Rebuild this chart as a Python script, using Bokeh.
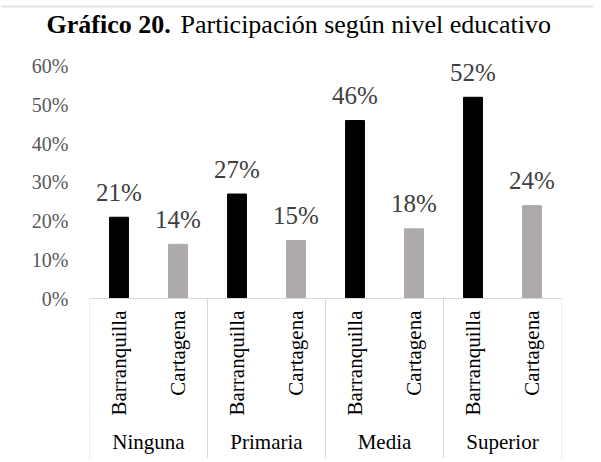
import math
from bokeh.plotting import figure
from bokeh.layouts import column
from bokeh.models import (ColumnDataSource, FactorRange, Range1d, FixedTicker,
                          NumeralTickFormatter, Label, Span)
from bokeh.core.properties import value
from bokeh.embed import file_html
from bokeh.resources import INLINE

# ---- data ----
groups = ["Ninguna", "Primaria", "Media", "Superior"]
cities = ["Barranquilla", "Cartagena"]
barranquilla = [21, 27, 46, 52]
cartagena = [14, 15, 18, 24]
y_ticks = [0, 0.1, 0.2, 0.3, 0.4, 0.5, 0.6]
title_bold = "Gráfico 20."
title_rest = "Participación según nivel educativo"

colors = {"Barranquilla": "#000000", "Cartagena": "#AEAAAA"}
series = {"Barranquilla": barranquilla, "Cartagena": cartagena}

xs, tops, cols, labels = [], [], [], []
for i, g in enumerate(groups):
    for c in cities:
        v = series[c][i]
        xs.append((g, c))
        tops.append(v / 100)
        cols.append(colors[c])
        labels.append(f"{v}%")

src = ColumnDataSource(dict(x=xs, top=tops, color=cols, label=labels))

FONT = "Liberation Serif"
W = 593
TITLE_H = 46

# ---- title strip (bold prefix + regular rest) ----
t = figure(width=W, height=TITLE_H, x_range=Range1d(0, W), y_range=Range1d(0, TITLE_H),
           output_backend="svg", toolbar_location=None,
           x_axis_location=None, y_axis_location=None,
           min_border_left=0, min_border_right=0, min_border_top=0, min_border_bottom=0)
t.frame_align = False
t.title.visible = False
t.outline_line_color = None
t.grid.visible = False
t.add_layout(Span(location=TITLE_H - 6, dimension="width", line_color="#E3E3E3", line_width=2))
t.add_layout(Label(x=46, y=TITLE_H - 24, text=title_bold,
                   text_font=FONT, text_font_size="26px", text_font_style="bold",
                   text_color="#000000", text_baseline="alphabetic", text_align="left"))
t.add_layout(Label(x=180, y=TITLE_H - 24, text=title_rest,
                   text_font=FONT, text_font_size="26px", text_font_style="normal",
                   text_color="#000000", text_baseline="alphabetic", text_align="left"))

# ---- chart ----
p = figure(
    width=W, height=462 - TITLE_H,
    x_range=FactorRange(*xs, factor_padding=0, group_padding=0, subgroup_padding=0, range_padding=0),
    y_range=Range1d(-0.4134, 0.6512),
    output_backend="svg", toolbar_location=None,
    min_border_left=89, min_border_right=32, min_border_top=0, min_border_bottom=4,
)
p.frame_align = False
p.title.visible = False
p.outline_line_color = None
p.xgrid.grid_line_color = None
p.ygrid.grid_line_color = None
p.background_fill_color = "white"
p.border_fill_color = "white"

p.vbar(x="x", top="top", width=0.32, color="color", source=src)

p.text(x="x", y="top", text="label", source=src, y_offset=-25,
       text_align="center", text_baseline="alphabetic",
       text_font=value(FONT), text_font_size="25px", text_color="#404040")

# group separators / box below axis
sep_x = [(g, cities[0], -0.5) for g in groups] + [(groups[-1], cities[-1], 0.5)]
p.segment(x0=sep_x, y0=[0] * len(sep_x), x1=sep_x, y1=[p.y_range.start] * len(sep_x),
          line_color="#D9D9D9", line_width=1)

# y axis
ya = p.yaxis[0]
ya.ticker = FixedTicker(ticks=y_ticks)
ya.formatter = NumeralTickFormatter(format="0%")
ya.axis_line_color = None
ya.major_tick_line_color = None
ya.minor_tick_line_color = None
ya.major_tick_out = 0
ya.major_tick_in = 0
ya.major_label_standoff = 21
ya.major_label_text_font = FONT
ya.major_label_text_font_size = "20px"
ya.major_label_text_color = "#595959"

# x axis (categorical, placed at y=0)
xa = p.xaxis[0]
xa.fixed_location = 0
xa.axis_line_color = "#D9D9D9"
xa.axis_line_width = 1
xa.major_tick_line_color = None
xa.minor_tick_line_color = None
xa.major_tick_out = 0
xa.major_tick_in = 0
xa.separator_line_color = None
xa.major_label_orientation = math.pi / 2
xa.major_label_standoff = 12
xa.major_label_text_font = FONT
xa.major_label_text_font_size = "21px"
xa.major_label_text_color = "#000000"
xa.group_label_orientation = "horizontal"
xa.group_text_font = FONT
xa.group_text_font_size = "21px"
xa.group_text_color = "#000000"
xa.group_text_font_style = "normal"

layout = column(t, p, spacing=0)
open("out.html", "w").write(file_html(layout, INLINE))
